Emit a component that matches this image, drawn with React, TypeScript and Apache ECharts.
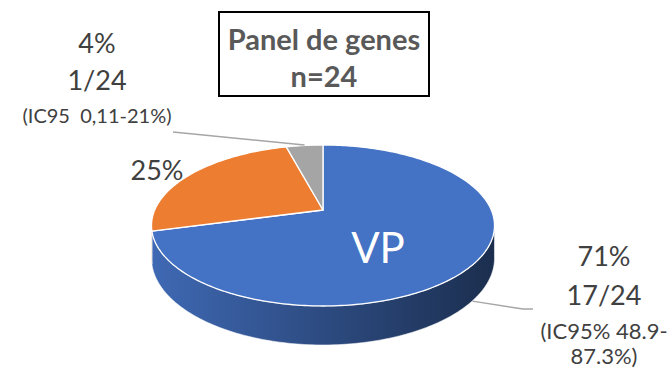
import React, { useEffect, useRef } from "react";
import * as echarts from "echarts";

// ---- data ----
const categories = ["VP", "B", "C"];
const counts = [17, 6, 1];
const total = 24;
const sliceColors = ["#4472C4", "#ED7D31", "#A5A5A5"];
const innerLabels = ["VP", "", ""];
const showFraction = [true, false, true];
const ciLines = [["(IC95% 48.9-", "87.3%)"], [], ["(IC95 \u00a00,11-21%)"]];
const titleLines = ["Panel de genes", "n=24"];

// ---- projection (perspective of a tilted disc) ----
const CX = 323, CY = 210, A = 168.3, B = 77.5, K = -0.1925, H = 31.5;
function proj(phiDeg: number, r: number, d: number): number[] {
  const p = (phiDeg * Math.PI) / 180;
  const X = r * Math.sin(p);
  const Z = -r * Math.cos(p);
  const w = 1 + K * Z;
  return [CX + (A * X) / w, CY + (B * Z + H * d) / w];
}
// visible (front-facing) part of the side wall
const SIL_R = (Math.acos(K) * 180) / Math.PI;
const SIL_L = 360 - SIL_R;

const starts: number[] = [];
{
  let acc = 0;
  counts.forEach((c) => {
    starts.push(acc);
    acc += (c / total) * 360;
  });
}

function mix(hex: string, f: number): string {
  const n = parseInt(hex.slice(1), 16);
  const r = Math.round(((n >> 16) & 255) * f);
  const g = Math.round(((n >> 8) & 255) * f);
  const b = Math.round((n & 255) * f);
  return `rgb(${r},${g},${b})`;
}

function arc(a0: number, a1: number, d: number): number[][] {
  const pts: number[][] = [];
  const step = 1;
  for (let a = a0; a < a1; a += step) pts.push(proj(a, 1, d));
  pts.push(proj(a1, 1, d));
  return pts;
}

const FONT = "Lato";
const TXT = "#404040";

export default function App() {
  const ref = useRef<HTMLDivElement>(null);
  useEffect(() => {
    if (!ref.current) return;
    const chart = echarts.init(ref.current, null, { renderer: "svg" });

    const renderTop = (params: any, api: any) => {
      const i = params.dataIndex;
      const v = api.value(0);
      const a0 = starts[i];
      const a1 = a0 + (v / total) * 360;
      const pts = [proj(0, 0, 0), ...arc(a0, a1, 0)];
      return {
        type: "polygon",
        shape: { points: pts },
        style: { fill: sliceColors[i], stroke: "#ffffff", lineWidth: 1.3, lineJoin: "round" },
      };
    };
    const renderWall = (params: any, api: any) => {
      const i = params.dataIndex;
      const v = api.value(0);
      const a0 = Math.max(starts[i], SIL_R);
      const a1 = Math.min(starts[i] + (v / total) * 360, SIL_L);
      if (a1 - a0 < 0.5) return null;
      const pts = [...arc(a0, a1, 0), ...arc(a0, a1, 1).reverse()];
      const c = sliceColors[i];
      return {
        type: "polygon",
        shape: { points: pts },
        style: {
          fill: new echarts.graphic.LinearGradient(
            CX - A * 1.02, 0, CX + A * 1.02, 0,
            [
              { offset: 0, color: mix(c, 0.92) },
              { offset: 0.5, color: mix(c, 0.66) },
              { offset: 1, color: mix(c, 0.4) },
            ],
            true
          ),
          stroke: "rgba(255,255,255,0.55)",
          lineWidth: 1,
        },
      };
    };

    const pct = counts.map((c) => Math.round((c / total) * 100));
    const graphics: any[] = [];

    // title box
    graphics.push({
      type: "rect",
      shape: { x: 219, y: 12, width: 210, height: 84 },
      style: { fill: "#ffffff", stroke: "#000000", lineWidth: 2 },
      z: 10,
    });
    graphics.push({
      type: "text",
      x: 324, y: 38,
      style: { text: titleLines[0], font: `bold 29px ${FONT}`, fill: "#595959", align: "center", verticalAlign: "middle" },
      z: 11,
    });
    graphics.push({
      type: "text",
      x: 324, y: 75,
      style: { text: titleLines[1], font: `bold 29px ${FONT}`, fill: "#595959", align: "center", verticalAlign: "middle" },
      z: 11,
    });

    // labels
    const labelPos = [
      { x: 604, ys: [255, 294, 330, 355], ciSize: 22 },
      { x: 157, ys: [169], ciSize: 18 },
      { x: 97, ys: [42, 79, 115], ciSize: 20 },
    ];
    counts.forEach((c, i) => {
      const lp = labelPos[i];
      const lines: { t: string; s: number }[] = [{ t: `${pct[i]}%`, s: 27 }];
      if (showFraction[i]) lines.push({ t: `${c}/${total}`, s: 27 });
      ciLines[i].forEach((t) => lines.push({ t, s: lp.ciSize }));
      lines.forEach((ln, j) => {
        graphics.push({
          type: "text",
          x: lp.x, y: lp.ys[j],
          style: { text: ln.t, font: `${ln.s}px ${FONT}`, fill: TXT, align: "center", verticalAlign: "middle" },
          z: 11,
        });
      });
    });

    // VP inner label
    graphics.push({
      type: "text",
      x: 378, y: 247,
      style: { text: innerLabels[0], font: `42px ${FONT}`, fill: "#ffffff", align: "center", verticalAlign: "middle" },
      z: 11,
    });

    // leader lines
    const mid = (i: number) => starts[i] + (counts[i] / total) * 180;
    const g0 = proj(mid(2), 1, 0);
    graphics.push({
      type: "polyline",
      shape: { points: [[173, 132], [g0[0], g0[1] - 0.5]] },
      style: { stroke: "#a6a6a6", lineWidth: 1.5, fill: "none" },
      z: 9,
    });
    const b0 = proj(mid(0), 1, 1);
    graphics.push({
      type: "polyline",
      shape: { points: [[b0[0] - 2, b0[1] + 2], [523, 309], [533, 309]] },
      style: { stroke: "#a6a6a6", lineWidth: 1.5, fill: "none" },
      z: 1,
    });

    chart.setOption({
      animation: false,
      backgroundColor: "#ffffff",
      graphic: { elements: graphics },
      series: [
        {
          type: "custom",
          name: "wall",
          coordinateSystem: "none",
          renderItem: renderWall,
          data: counts.map((v, i) => ({ name: categories[i], value: [v] })),
          z: 2,
          silent: true,
        },
        {
          type: "custom",
          name: "top",
          coordinateSystem: "none",
          renderItem: renderTop,
          data: counts.map((v, i) => ({ name: categories[i], value: [v] })),
          z: 3,
          silent: true,
        },
      ],
    });
    return () => chart.dispose();
  }, []);
  return (
    <div
      ref={ref}
      style={{ position: "fixed", left: 0, top: 0, width: 672, height: 387 }}
    />
  );
}
